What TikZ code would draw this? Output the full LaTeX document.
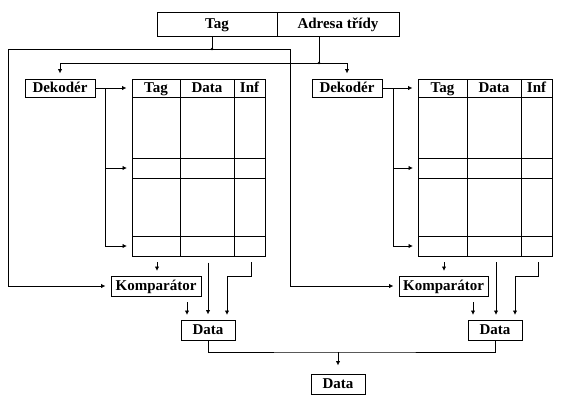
\documentclass[tikz,border=0pt]{standalone}
\usepackage{fontspec}
\setmainfont{Liberation Serif}
\usetikzlibrary{arrows.meta,calc}
\begin{document}
\begin{tikzpicture}[x=1pt,y=-1pt,line width=1pt,
  box/.style={draw,inner sep=0pt,text height=10.5pt,text depth=1.5pt,font=\fontsize{15}{18}\selectfont\bfseries},
  hdr/.style={inner sep=0pt,text height=10.5pt,text depth=1.5pt,font=\fontsize{15}{18}\selectfont\bfseries},
  arr/.style={-{Latex[length=4.5pt,width=4.5pt]},shorten >=5pt}]
\useasboundingbox (0,0) rectangle (562,400);
% top address register
\node[box,minimum width=120,minimum height=24] (tag) at (217,24) {Tag};
\node[box,minimum width=122,minimum height=24] (adr) at (338,24) {Adresa třídy};
\coordinate (j1) at (212,49);
\coordinate (j2) at (319,63);
\coordinate (L) at (8,286);
\coordinate (R) at (290,286);
% decoders
\node[box,minimum width=70,minimum height=18] (dek1) at (60,88) {Dekodér};
\node[box,minimum width=70,minimum height=18] (dek2) at (347,88) {Dekodér};
% tables
\node[draw,minimum width=133,minimum height=177,inner sep=0pt] (t1) at (198.5,167.5) {};
\node[draw,minimum width=134,minimum height=177,inner sep=0pt] (t2) at (485,167.5) {};
\draw (132,97) -- (265,97) (132,158) -- (265,158) (132,178) -- (265,178) (132,236) -- (265,236)
      (180,79) -- (180,256) (234,79) -- (234,256);
\draw (418,97) -- (552,97) (418,158) -- (552,158) (418,178) -- (552,178) (418,236) -- (552,236)
      (467,79) -- (467,256) (521,79) -- (521,256);
\node[hdr] (h1a) at (156,88) {Tag};
\node[hdr] (h1b) at (207,88) {Data};
\node[hdr] (h1c) at (249.5,88) {Inf};
\node[hdr] (h2a) at (442.5,88) {Tag};
\node[hdr] (h2b) at (494,88) {Data};
\node[hdr] (h2c) at (536.5,88) {Inf};
% comparators and data
\node[box,minimum width=90,minimum height=20] (komp1) at (156,286) {Komparátor};
\node[box,minimum width=89,minimum height=20] (komp2) at (443.5,286) {Komparátor};
\node[box,minimum width=54,minimum height=20] (d1) at (208,330) {Data};
\node[box,minimum width=54,minimum height=20] (d2) at (495,330) {Data};
\node[box,minimum width=54,minimum height=20] (d3) at (338,384) {Data};
% address connections
\draw (j1 |- tag.south) -- (j1);
\fill (j1) circle (1.3pt);
\draw (j2 |- adr.south) -- (j2);
\fill (j2) circle (1.3pt);
\draw[arr] (j1) -| (L) -- (komp1.west);
\draw[arr] (j1) -| (R) -- (komp2.west);
\draw[arr] (j2) -| (dek1.north);
\draw[arr] (j2) -| (dek2.north);
% decoder outputs left
\coordinate (b1) at (105,88);
\draw[arr] (dek1.east) -- (t1.west |- dek1.east);
\draw[arr] (b1) |- (132,168);
\draw[arr] (b1) |- (132,246);
% decoder outputs right
\coordinate (b2) at (393,88);
\draw[arr] (dek2.east) -- (t2.west |- dek2.east);
\draw[arr] (b2) |- (418,168);
\draw[arr] (b2) |- (418,246);
% left bottom
\draw[arr,shorten <=6pt] (157,256) -- (157,276);
\draw[arr,shorten <=6pt] (d1.north |- t1.south) -- (d1.north);
\draw[arr] (251,262) -- (251,276) -- (227,276) -- (227,320);
\draw[arr,shorten <=6pt] (187,296) -- (187,320);
% right bottom
\draw[arr,shorten <=6pt] (444,256) -- (444,276);
\draw[arr,shorten <=6pt] (496,256) -- (496,320);
\draw[arr] (538,262) -- (538,276) -- (515,276) -- (515,320);
\draw[arr,shorten <=6pt] (473,296) -- (473,320);
% merge
\coordinate (m) at (338,352);
\draw (d1.south) |- (m) -| (d2.south);
\draw[arr,shorten >=8pt] (m) -- (d3.north);
\end{tikzpicture}
\end{document}
